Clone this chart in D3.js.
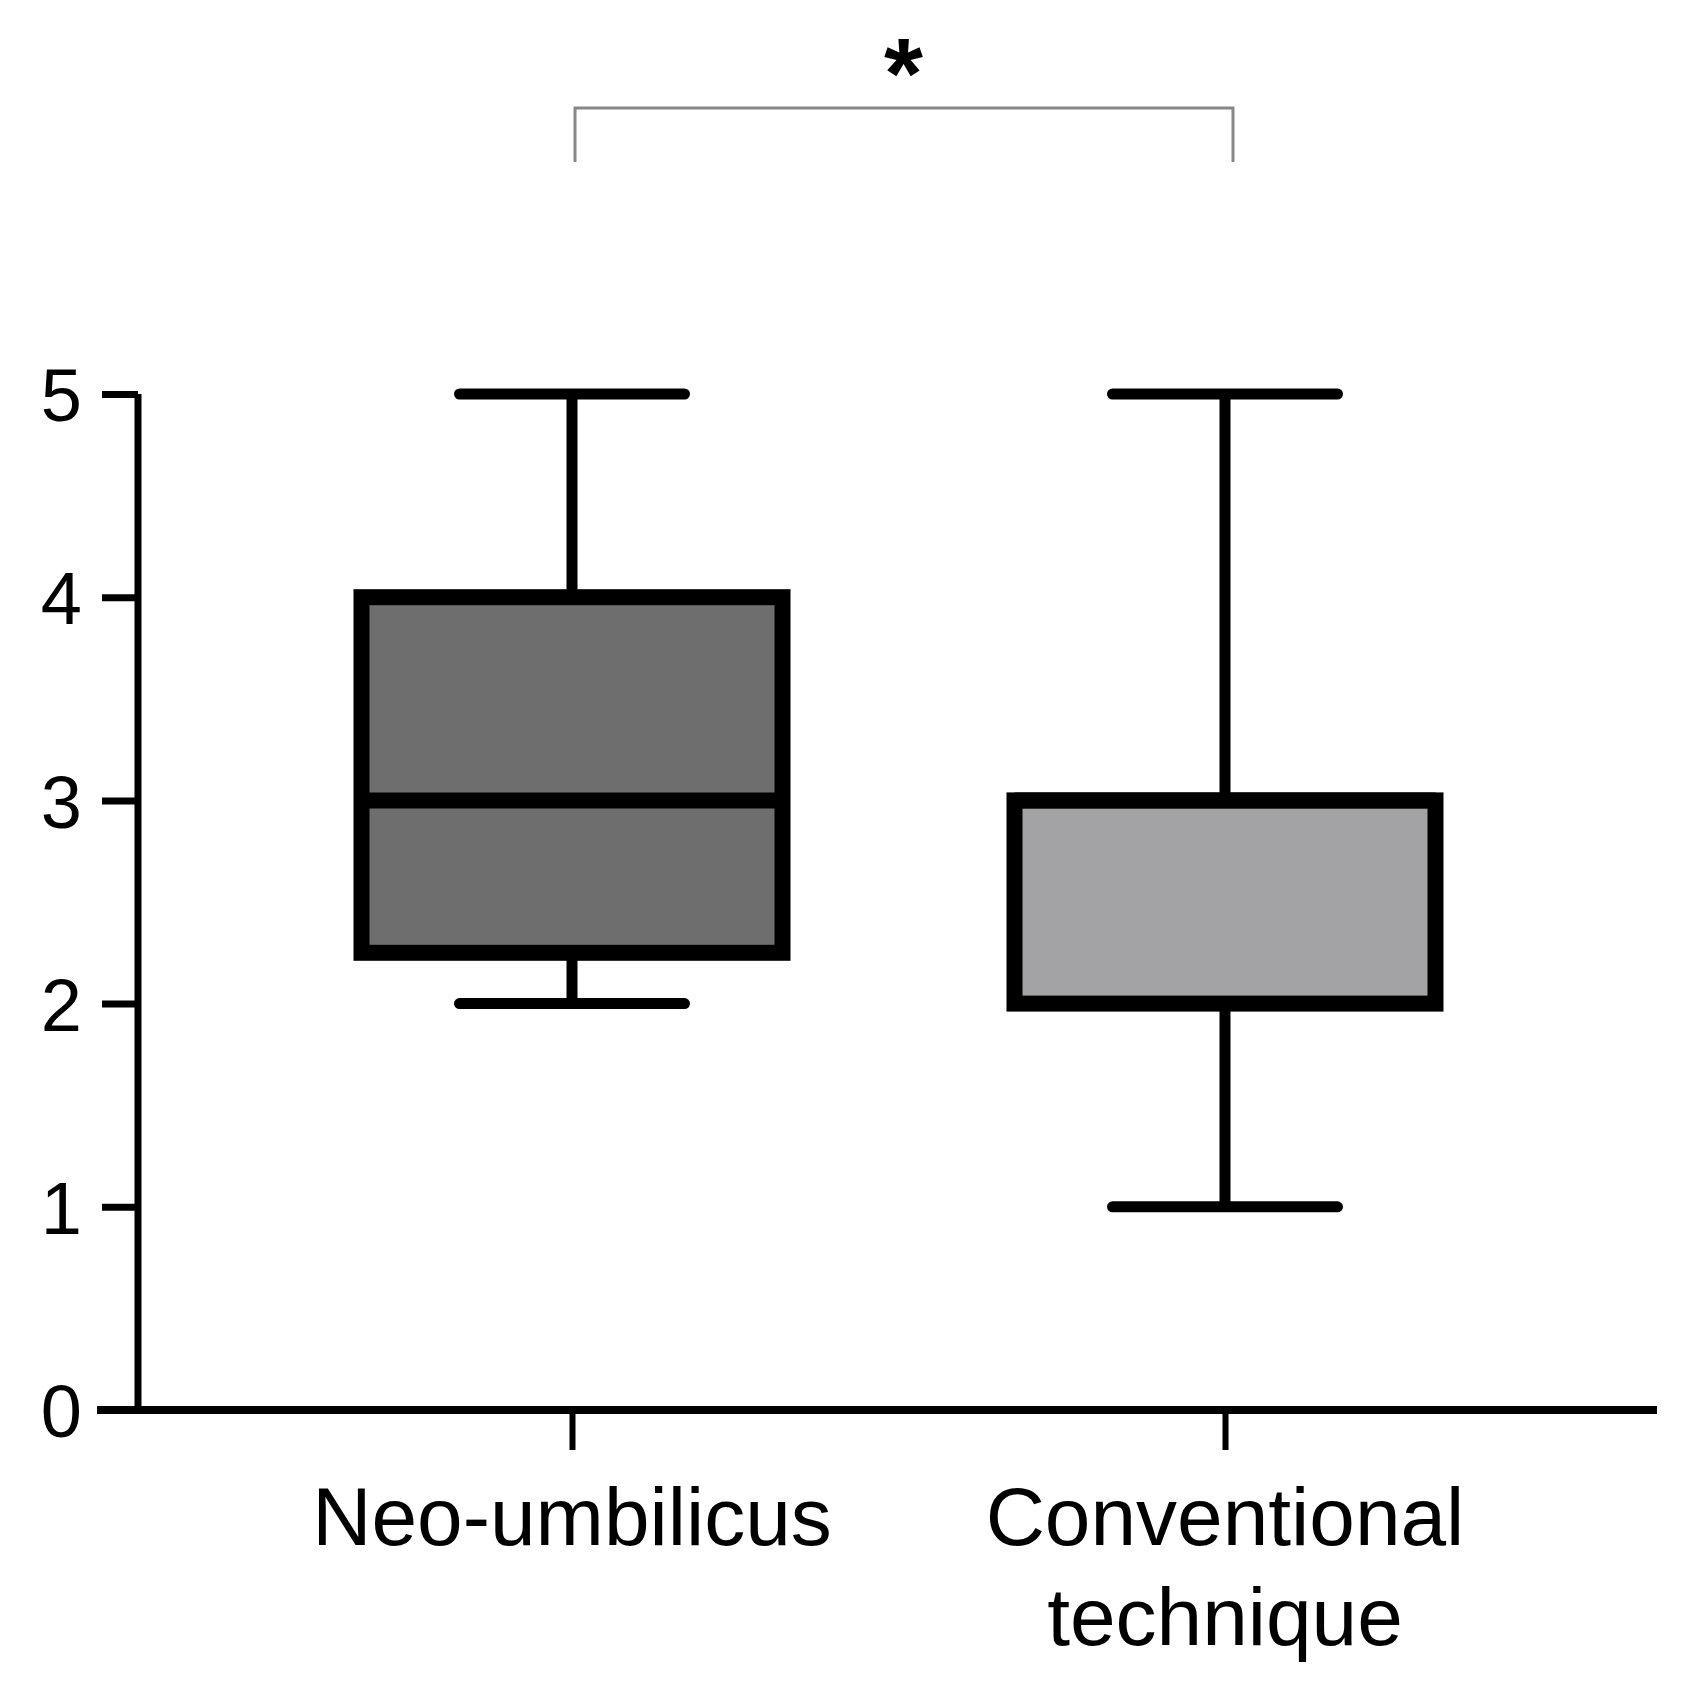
<!DOCTYPE html>
<html><head><meta charset="utf-8">
<script src="https://cdn.jsdelivr.net/npm/d3@7"></script>
<style>body{margin:0;background:#fff}</style>
</head><body><div id="chart"></div>
<script>
const categories = ["Neo-umbilicus", "Conventional technique"];
const whiskerLow = [2, 1];
const q1 = [2.25, 2];
const median = [3, 3];
const q3 = [4, 3];
const whiskerHigh = [5, 5];
const fills = ["#6e6e6e", "#a3a3a5"];
const yTicks = [0, 1, 2, 3, 4, 5];

const W = 1682, H = 1700;
const svg = d3.select("#chart").append("svg").attr("width", W).attr("height", H)
  .style("font-family", "Liberation Sans, Arial, sans-serif");

const x = d3.scalePoint().domain(categories).range([572, 1225]);
const y = d3.scaleLinear().domain([0, 5]).range([1410, 394]);
const boxW = 421, capW = 225;

// y axis
const yAxis = svg.append("g").attr("transform", "translate(138,0)")
  .call(d3.axisLeft(y).tickValues(yTicks).tickFormat(d3.format("d")).tickSize(36).tickPadding(20));
yAxis.select(".domain").attr("d", `M0,${y(5)}V${y(0)}`).attr("stroke-width", 7);
yAxis.selectAll(".tick line").attr("stroke-width", 7);
yAxis.selectAll("text").style("font-size", "74px").attr("fill", "#000").attr("dy", "0.36em");

// x axis
const xAxis = svg.append("g").attr("transform", `translate(0,${y(0)})`)
  .call(d3.axisBottom(x).tickSize(40).tickFormat(""));
xAxis.select(".domain").attr("d", "M97,0H1657").attr("stroke-width", 8);
xAxis.selectAll(".tick line").attr("stroke-width", 6);

svg.append("text").attr("x", x(categories[0])).attr("y", 1545).attr("text-anchor", "middle")
  .style("font-size", "82px").text("Neo-umbilicus");
const t2 = svg.append("text").attr("x", x(categories[1])).attr("text-anchor", "middle").style("font-size", "82px");
t2.append("tspan").attr("x", x(categories[1])).attr("y", 1545).text("Conventional");
t2.append("tspan").attr("x", x(categories[1])).attr("y", 1645).text("technique");

// boxes
categories.forEach((c, i) => {
  const cx = x(c);
  const g = svg.append("g");
  g.append("line").attr("x1", cx).attr("x2", cx).attr("y1", y(whiskerHigh[i])).attr("y2", y(q3[i]))
    .attr("stroke", "#000").attr("stroke-width", 11);
  g.append("line").attr("x1", cx).attr("x2", cx).attr("y1", y(q1[i])).attr("y2", y(whiskerLow[i]))
    .attr("stroke", "#000").attr("stroke-width", 11);
  [whiskerHigh[i], whiskerLow[i]].forEach(v => {
    g.append("line").attr("x1", cx - capW / 2).attr("x2", cx + capW / 2).attr("y1", y(v)).attr("y2", y(v))
      .attr("stroke", "#000").attr("stroke-width", 11).attr("stroke-linecap", "round");
  });
  g.append("rect").attr("x", cx - boxW / 2).attr("width", boxW).attr("y", y(q3[i]))
    .attr("height", y(q1[i]) - y(q3[i])).attr("fill", fills[i]).attr("stroke", "#000").attr("stroke-width", 16);
  g.append("line").attr("x1", cx - boxW / 2).attr("x2", cx + boxW / 2).attr("y1", y(median[i])).attr("y2", y(median[i]))
    .attr("stroke", "#000").attr("stroke-width", 16);
});

// significance bracket
const by = 108, bl = 162;
svg.append("path").attr("d", `M${x(categories[0]) + 3},${bl}V${by}H${x(categories[1]) + 8}V${bl}`)
  .attr("fill", "none").attr("stroke", "#888").attr("stroke-width", 3);
svg.append("text").attr("x", (x(categories[0]) + x(categories[1])) / 2 + 5).attr("y", 108)
  .attr("text-anchor", "middle").style("font-size", "100px").style("font-weight", "bold").text("*");
</script></body></html>
